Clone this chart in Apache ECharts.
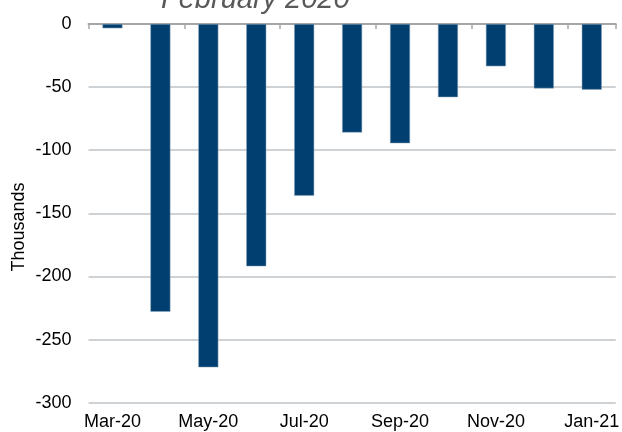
<!DOCTYPE html>
<html>
<head>
<meta charset="utf-8">
<script src="https://cdn.jsdelivr.net/npm/echarts@6/dist/echarts.min.js"></script>
<style>
  html, body { margin: 0; padding: 0; background: #fff; }
  #main { width: 622px; height: 432px; }
</style>
</head>
<body>
<div id="main"></div>
<script>
// data (thousands)
const months = ['Mar-20', 'Apr-20', 'May-20', 'Jun-20', 'Jul-20', 'Aug-20',
  'Sep-20', 'Oct-20', 'Nov-20', 'Dec-20', 'Jan-21'];
const changes = [-3.4, -228, -272, -192, -136, -86, -94.5, -58, -33.5, -51, -52];
const titleText = 'February 2020';
const yName = 'Thousands';

const chart = echarts.init(document.getElementById('main'), null, { renderer: 'canvas' });

const font = 'Liberation Sans, Arial, sans-serif';

chart.setOption({
  animation: false,
  textStyle: { fontFamily: font },
  grid: { left: 88.5, right: 0, top: 24, bottom: 29.3, containLabel: false },
  graphic: [{
    type: 'text',
    left: 161,
    top: -15,
    style: {
      text: titleText,
      font: 'italic 29px ' + font,
      fill: '#595959'
    }
  }, {
    type: 'text',
    x: 19,
    y: 227,
    rotation: Math.PI / 2,
    style: {
      text: yName,
      font: '18px ' + font,
      fill: '#000',
      align: 'center',
      verticalAlign: 'middle'
    }
  }],
  xAxis: [{
    type: 'category',
    data: months,
    position: 'top',
    axisLine: { onZero: false, lineStyle: { color: '#a6a6a6', width: 2 } },
    axisTick: { show: true, inside: true, length: 5, interval: 1, lineStyle: { color: '#a6a6a6', width: 1.5 } },
    axisLabel: { show: false },
    splitLine: { show: false }
  }, {
    type: 'category',
    data: months,
    position: 'bottom',
    axisLine: { show: false },
    axisTick: { show: false },
    axisLabel: { interval: 1, fontSize: 18, color: '#000', margin: 10, fontFamily: font },
    splitLine: { show: false }
  }],
  yAxis: {
    type: 'value',
    min: -300,
    max: 0,
    interval: 50,
    axisLine: { show: false },
    axisTick: { show: false },
    axisLabel: { fontSize: 18, color: '#000', margin: 17, fontFamily: font },
    splitLine: { lineStyle: { color: '#bfc3c7', width: 1.5 } }
  },
  series: [{
    type: 'bar',
    xAxisIndex: 0,
    data: changes,
    barWidth: 20,
    itemStyle: { color: '#003f6f', borderColor: '#8fa9bf', borderWidth: 0.5 },
    z: 1
  }]
});
</script>
</body>
</html>
